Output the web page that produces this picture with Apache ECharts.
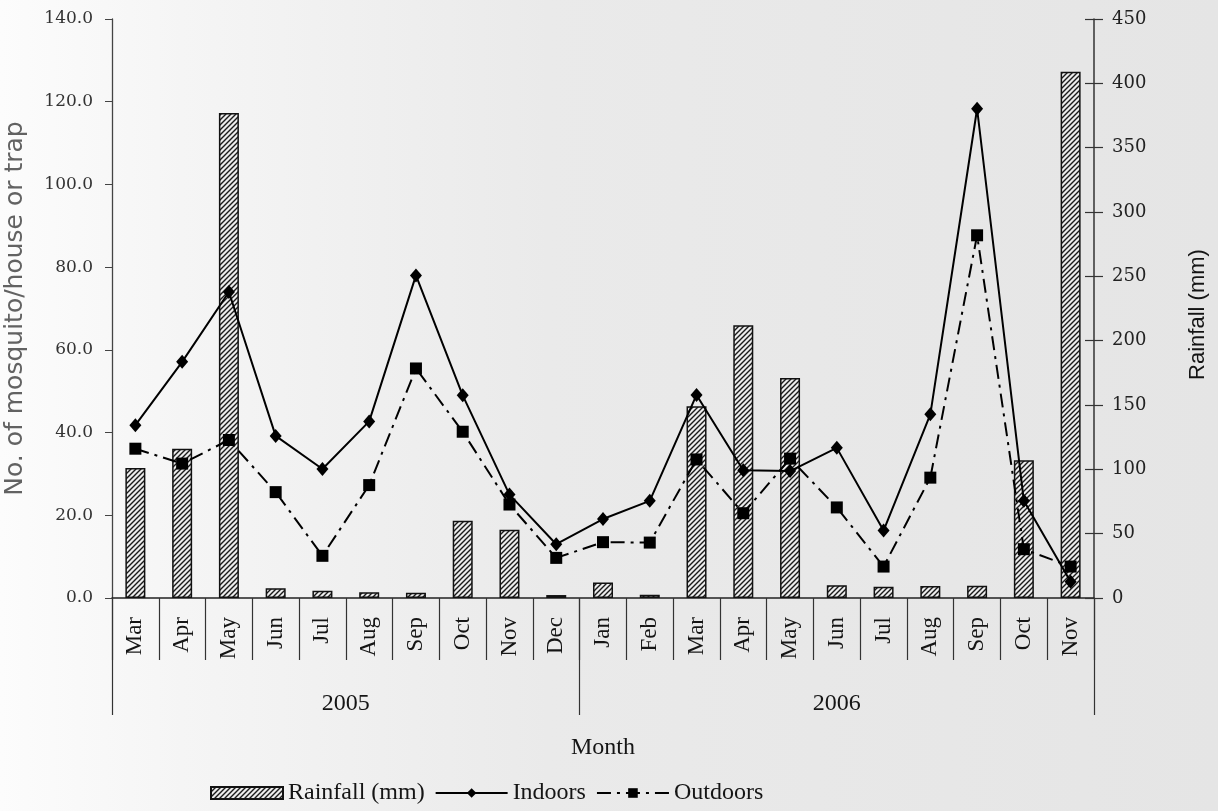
<!DOCTYPE html>
<html>
<head>
<meta charset="utf-8">
<style>
  html, body { margin: 0; padding: 0; }
  #chart { width: 1218px; height: 811px; }
</style>
<script src="https://cdn.jsdelivr.net/npm/echarts@6/dist/echarts.min.js"></script>
</head>
<body>
<div id="chart"></div>
<script>
// Monthly survey, March 2005 - November 2006
const months = ['Mar','Apr','May','Jun','Jul','Aug','Sep','Oct','Nov','Dec',
                'Jan','Feb','Mar','Apr','May','Jun','Jul','Aug','Sep','Oct','Nov'];
const years = ['2005', '2006'];
const monthsPerYear = [10, 11];

// Rainfall (mm), right axis
const rainfall = [101, 116, 377, 7.5, 5.7, 4.4, 4.1, 60, 53, 2.3,
                  12, 2.6, 149, 212, 171, 10, 8.8, 9.3, 9.6, 107, 409];
// Mosquitoes per house (indoors) / per trap (outdoors), left axis
const indoors = [41.8, 57.1, 74.0, 39.2, 31.2, 42.7, 78.0, 49.0, 25.0, 13.0,
                 19.1, 23.5, 49.1, 30.9, 30.7, 36.3, 16.3, 44.4, 118.3, 23.5, 3.9];
const outdoors = [36.1, 32.5, 38.2, 25.6, 10.2, 27.3, 55.5, 40.2, 22.6, 9.7,
                  13.5, 13.4, 33.5, 20.5, 33.7, 21.9, 7.6, 29.1, 87.7, 11.8, 7.6];

const leftTicks = { min: 0, max: 140, step: 20 };
const rightTicks = { min: 0, max: 450, step: 50 };

// unique category keys, the label shows only the month
const categories = [];
let yi = 0, cnt = 0;
months.forEach(function (m) {
  categories.push(m + ' ' + years[yi]);
  cnt++;
  if (cnt === monthsPerYear[yi]) { yi++; cnt = 0; }
});

// year group boundaries and centres on a 0..N scale
const yearBounds = [0];
const yearCentres = [];
monthsPerYear.forEach(function (n) {
  const start = yearBounds[yearBounds.length - 1];
  yearCentres.push(start + n / 2);
  yearBounds.push(start + n);
});

// diagonal hatching used for the rainfall bars
const hatch = document.createElement('canvas');
hatch.width = 5; hatch.height = 5;
const hc = hatch.getContext('2d');
hc.fillStyle = '#ececec';
hc.fillRect(0, 0, 5, 5);
hc.strokeStyle = '#1a1a1a';
hc.lineWidth = 1.4;
hc.beginPath();
hc.moveTo(-1, 6); hc.lineTo(6, -1);
hc.moveTo(-1, 1); hc.lineTo(1, -1);
hc.moveTo(4, 6); hc.lineTo(6, 4);
hc.stroke();

const serif = '"Liberation Serif", "Times New Roman", serif';
const wideSerif = '"DejaVu Serif", serif';
const ink = '#151515';

const chart = echarts.init(document.getElementById('chart'));
chart.setOption({
  animation: false,
  backgroundColor: {
    type: 'linear', x: 0, y: 0, x2: 1, y2: 0,
    colorStops: [
      { offset: 0, color: '#fcfcfc' },
      { offset: 0.15, color: '#f5f5f5' },
      { offset: 0.45, color: '#eaeaea' },
      { offset: 1, color: '#e5e5e5' }
    ]
  },
  grid: { left: 112, right: 124, top: 19, bottom: 213, containLabel: false, outerBoundsMode: 'none' },
  legend: {
    left: 205, top: 776,
    itemWidth: 72, itemHeight: 12, itemGap: 10,
    textStyle: { fontFamily: serif, fontSize: 24, color: ink },
    data: [
      { name: 'Rainfall (mm)', icon: 'rect' },
      'Indoors',
      'Outdoors'
    ]
  },
  xAxis: [
    {
      type: 'category',
      data: categories,
      position: 'bottom',
      axisLine: { lineStyle: { color: '#222', width: 1.5 } },
      axisTick: { show: true, interval: 0, length: 62, lineStyle: { color: '#333', width: 1.2 } },
      axisLabel: {
        interval: 0, rotate: 90, margin: 19,
        fontFamily: serif, fontSize: 23, color: ink,
        formatter: function (v) { return v.split(' ')[0]; }
      },
      name: 'Month',
      nameLocation: 'middle',
      nameGap: 138,
      nameTextStyle: { fontFamily: serif, fontSize: 24, color: ink }
    },
    {
      type: 'value',
      min: 0, max: months.length,
      position: 'bottom',
      axisLine: { show: false },
      splitLine: { show: false },
      axisTick: { show: true, customValues: yearBounds, length: 117, lineStyle: { color: '#333', width: 1.2 } },
      axisLabel: {
        customValues: yearCentres, margin: 94,
        fontFamily: serif, fontSize: 24, color: ink,
        formatter: function (v) {
          const i = yearCentres.indexOf(v);
          return i >= 0 ? years[i] : '';
        }
      }
    }
  ],
  yAxis: [
    {
      type: 'value',
      min: leftTicks.min, max: leftTicks.max, interval: leftTicks.step,
      position: 'left',
      axisLine: { show: true, lineStyle: { color: '#444', width: 1.3 } },
      axisTick: { show: true, length: 7, lineStyle: { color: '#444' } },
      splitLine: { show: false },
      axisLabel: {
        margin: 19, fontFamily: wideSerif, fontSize: 17, color: '#333',
        formatter: function (v) { return v.toFixed(1); }
      },
      name: 'No. of mosquito/house or trap',
      nameLocation: 'middle',
      nameRotate: 90,
      nameGap: 84,
      nameTextStyle: { fontFamily: '"DejaVu Sans", sans-serif', fontSize: 25, color: '#626262' }
    },
    {
      type: 'value',
      min: rightTicks.min, max: rightTicks.max, interval: rightTicks.step,
      position: 'right',
      axisLine: { show: true, lineStyle: { color: '#333', width: 1.5 } },
      axisTick: { show: true, length: 9, lineStyle: { color: '#333', width: 1.2 } },
      splitLine: { show: false },
      axisLabel: { margin: 18, fontFamily: wideSerif, fontSize: 18, color: '#222' },
      name: 'Rainfall (mm)',
      nameLocation: 'middle',
      nameRotate: 90,
      nameGap: 93,
      nameTextStyle: {
        fontFamily: '"Liberation Sans", sans-serif',
        fontSize: 22, color: ink, padding: [0, 12, 0, 0]
      }
    },
    {
      // inward half of the cross-shaped ticks on the rainfall axis
      type: 'value',
      min: rightTicks.min, max: rightTicks.max, interval: rightTicks.step,
      position: 'right',
      axisLine: { show: false },
      axisTick: { show: true, inside: true, length: 9, lineStyle: { color: '#333', width: 1.2 } },
      axisLabel: { show: false },
      splitLine: { show: false }
    }
  ],
  series: [
    {
      name: 'Rainfall (mm)',
      type: 'bar',
      xAxisIndex: 0,
      yAxisIndex: 1,
      data: rainfall,
      barWidth: 20,
      itemStyle: {
        color: { image: hatch, repeat: 'repeat' },
        borderColor: '#111',
        borderWidth: 1.5
      }
    },
    {
      name: 'Indoors',
      type: 'line',
      xAxisIndex: 0,
      yAxisIndex: 0,
      data: indoors,
      symbol: 'diamond',
      symbolSize: [12, 14],
      lineStyle: { color: '#000', width: 2 },
      itemStyle: { color: '#000' },
      z: 4
    },
    {
      name: 'Outdoors',
      type: 'line',
      xAxisIndex: 0,
      yAxisIndex: 0,
      data: outdoors,
      symbol: 'rect',
      symbolSize: 12,
      lineStyle: { color: '#000', width: 2, type: [14, 6, 3, 6] },
      itemStyle: { color: '#000' },
      z: 3
    }
  ]
});
</script>
</body>
</html>
